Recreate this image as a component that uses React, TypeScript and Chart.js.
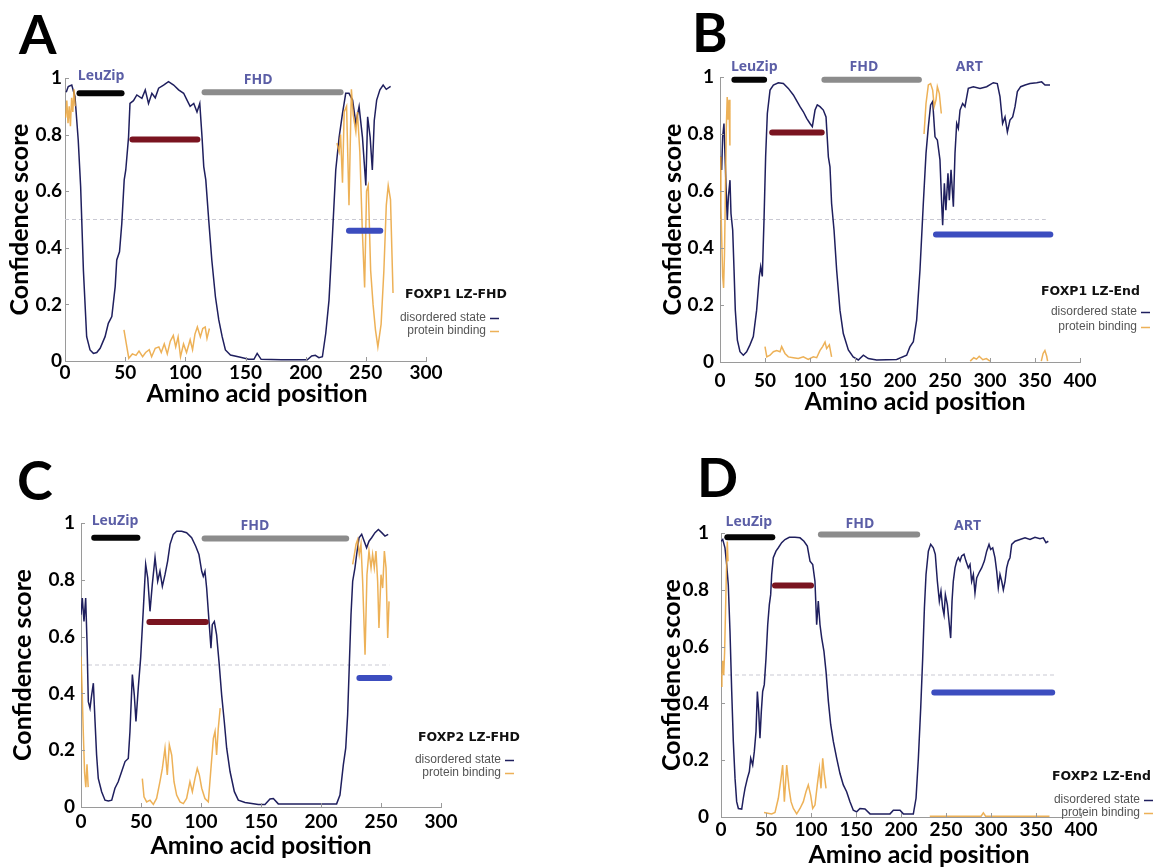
import React, { useEffect, useRef } from 'react';
import { Chart, registerables } from 'chart.js';
Chart.register(...registerables);

type Pt = [number, number | null];

// ---------------- DATA ----------------
const xTitle = 'Amino acid position';
const yTitle = 'Confidence score';
const legendItems = ['disordered state', 'protein binding'];
const domainColors = ['#050505', '#8c8c8c', '#7a1420', '#3c4dbf'];

// Panel A – FOXP1 LZ-FHD
const aDisordered: Pt[] = [[1,0.95],[2.7,0.97],[5.6,0.975],[8.3,0.934],[11,0.78],[13,0.616],[15.3,0.32],[18,0.086],[20.8,0.039],[23.6,0.027],[26.4,0.03],[29.2,0.045],[33.3,0.086],[36,0.133],[38.9,0.157],[41.7,0.263],[43,0.357],[45.3,0.386],[47.2,0.486],[49.2,0.64],[50.5,0.675],[52.8,0.79],[54,0.91],[56.9,0.92],[59.7,0.94],[63.9,0.928],[66.7,0.958],[69.4,0.91],[72.2,0.946],[75,0.93],[77.8,0.964],[81.9,0.975],[86,0.987],[90.3,0.975],[94.4,0.958],[98.6,0.946],[101.4,0.922],[104,0.9],[107,0.91],[109.7,0.88],[112,0.91],[113.9,0.79],[115.3,0.687],[117,0.64],[119.4,0.5],[122,0.357],[125,0.227],[127.8,0.145],[130.6,0.086],[133.3,0.039],[137.5,0.021],[145.8,0.013],[152.6,0.006],[157,0.006],[159.7,0.027],[163,0.006],[180,0.004],[201.4,0.004],[205,0.018],[208,0.02],[211,0.012],[213.9,0.015],[216.7,0.098],[219.4,0.215],[222.2,0.44],[225,0.675],[227.8,0.79],[230.6,0.875],[233.3,0.946],[236,0.946],[239,0.922],[241.7,0.84],[244.4,0.899],[247.2,0.79],[250,0.62],[251.5,0.863],[253.6,0.79],[255.4,0.675],[257,0.85],[259,0.922],[261.7,0.958],[264.4,0.975],[267,0.96],[270.6,0.97]];
const aBinding: Pt[] = [[0.5,0.86],[1.5,0.92],[2.5,0.84],[3.5,0.9],[4.5,0.83],[5.5,0.93],[6.5,0.88],[7.5,0.96],[8.5,0.9],[20,null],[49,0.11],[51,0.06],[53,0.01],[56,0.025],[59,0.02],[61.5,0.035],[64.5,0.015],[67,0.03],[70,0.04],[72,0.015],[75,0.045],[78,0.05],[80,0.03],[82.5,0.06],[85,0.025],[87.5,0.07],[90,0.09],[92,0.05],[94,0.085],[96,0.015],[98.5,0.06],[101,0.03],[104,0.075],[106,0.04],[108,0.095],[110,0.12],[112.5,0.085],[114.5,0.115],[116.5,0.12],[118,0.08],[120,0.115],[170,null],[226,0.77],[227.8,0.74],[229,0.8],[230.6,0.63],[232,0.88],[234,0.9],[236,0.55],[238,0.96],[239.5,0.87],[241.7,0.81],[243,0.88],[245,0.74],[247,0.47],[249,0.26],[250.6,0.6],[252,0.62],[254,0.32],[256,0.2],[258,0.11],[260,0.05],[262.7,0.13],[265,0.32],[267,0.55],[268.6,0.62],[270.5,0.57],[272.6,0.24]];
const aDomains = [[12,47,0.946],[116,229,0.95],[56,110,0.783],[236,262,0.46]];
const aDomainNames = ['LeuZip','FHD'];
const aDomainNameX = [30,160.5];
const aDomainNameY = [1.007,0.993];
const aThresholdEnd = 272;

// Panel B – FOXP1 LZ-End
const bDisordered: Pt[] = [[0.5,0.72],[1.85,0.674],[2.96,0.79],[4.4,0.837],[5.5,0.732],[6.7,0.615],[8.1,0.498],[9.3,0.58],[11.1,0.638],[12.2,0.521],[14.1,0.463],[15.6,0.323],[17,0.182],[19.3,0.077],[22.2,0.036],[25.9,0.024],[29.6,0.036],[33.3,0.06],[37,0.089],[40.7,0.182],[43.7,0.3],[45.2,0.335],[47,0.3],[48.9,0.498],[50.7,0.72],[52.6,0.872],[55.6,0.954],[59.3,0.972],[64.8,0.98],[70.4,0.977],[75.9,0.96],[81.5,0.937],[85.9,0.913],[88.9,0.896],[92.6,0.878],[96.3,0.855],[100,0.837],[102.6,0.826],[105.6,0.884],[108.1,0.902],[111.1,0.896],[114.8,0.884],[117.8,0.86],[120.4,0.72],[122.2,0.685],[124,0.556],[126.7,0.463],[129.6,0.323],[133.3,0.182],[137,0.1],[142.6,0.042],[148,0.018],[153.7,0.007],[159.3,0.024],[164.8,0.012],[174,0.007],[196.3,0.009],[207.4,0.024],[211,0.053],[214.8,0.071],[218.5,0.147],[222.2,0.323],[225.9,0.556],[228.9,0.732],[231.5,0.826],[234,0.902],[236.3,0.914],[238.9,0.79],[241.5,0.779],[244.4,0.709],[246.3,0.556],[247.4,0.48],[249.3,0.627],[251,0.533],[253.3,0.662],[254.8,0.568],[256.7,0.674],[259.3,0.545],[261.1,0.732],[263,0.837],[264.8,0.82],[266.7,0.884],[269.6,0.907],[272.2,0.896],[275.9,0.96],[281.5,0.966],[288.9,0.96],[296.3,0.966],[303.7,0.98],[308.1,0.977],[311.1,0.931],[314,0.837],[316.7,0.86],[319.3,0.807],[322.2,0.849],[325.2,0.86],[327.8,0.896],[330.4,0.949],[334.1,0.966],[339,0.972],[344.4,0.977],[351.9,0.98],[357.4,0.983],[361.1,0.972],[366.7,0.972]];
const bBinding: Pt[] = [[0,0.72],[1,0.55],[2,0.42],[3,0.3],[4,0.26],[5,0.38],[6,0.6],[7,0.82],[8,0.93],[9,0.85],[10,0.92],[11,0.76],[30,null],[50,0.054],[52,0.018],[55.6,0.024],[59.3,0.036],[63,0.04],[66.7,0.036],[68.5,0.054],[72.2,0.03],[75.9,0.018],[81.5,0.015],[87,0.012],[92.6,0.018],[98,0.009],[103.7,0.018],[107.4,0.015],[111,0.04],[114,0.054],[116.7,0.07],[118.5,0.047],[121.5,0.06],[124,0.018],[180,null],[226.7,0.8],[228.9,0.907],[231.5,0.972],[234,0.977],[236.3,0.954],[238,0.896],[240,0.92],[241.5,0.966],[243.7,0.942],[245.9,0.872],[260,null],[278,0.003],[282,0.015],[285,0.01],[288,0.02],[292,0.008],[296,0.012],[300,0.003],[330,null],[357,0.003],[359,0.03],[361,0.04],[363,0.02],[364,0.003]];
const bDomains = [[16,49,0.99],[116,221,0.99],[58,113,0.805],[240,367,0.447]];
const bDomainNames = ['LeuZip','FHD','ART'];
const bDomainNameX = [38,160,277];
const bDomainNameY = [1.035,1.035,1.035];
const bThresholdEnd = 362;

// Panel C – FOXP2 LZ-FHD
const cDisordered: Pt[] = [[0,0.677],[1.1,0.736],[2.5,0.653],[3.9,0.736],[5,0.583],[6.1,0.371],[7.5,0.348],[8.9,0.395],[10.3,0.436],[11.7,0.301],[13,0.183],[14.4,0.101],[17.2,0.054],[20,0.024],[22.8,0.021],[25.6,0.024],[28.3,0.066],[31,0.089],[33.9,0.125],[36.7,0.16],[39.4,0.171],[40.8,0.266],[42.8,0.466],[44.4,0.395],[45.8,0.301],[47.8,0.424],[49.7,0.524],[52,0.701],[53.9,0.854],[55.6,0.807],[57.5,0.689],[59.4,0.783],[61.7,0.878],[63.9,0.795],[65.8,0.83],[67.8,0.777],[70,0.818],[72.2,0.866],[74.2,0.925],[76.9,0.96],[79.7,0.971],[83.9,0.971],[88,0.966],[92.2,0.948],[95.6,0.918],[98.3,0.889],[100.6,0.83],[101.9,0.812],[103.3,0.83],[104.7,0.771],[106.7,0.653],[108.3,0.559],[109.4,0.642],[111.1,0.653],[113,0.606],[115,0.512],[117.2,0.395],[119.4,0.301],[121.4,0.207],[124.2,0.125],[127.8,0.054],[131.1,0.024],[136.7,0.016],[147.8,0.009],[153.3,0.009],[157.5,0.028],[160.3,0.03],[164.4,0.011],[213,0.011],[215.8,0.042],[218.6,0.148],[220.6,0.207],[222.2,0.325],[223.6,0.501],[225,0.677],[226.4,0.795],[228.3,0.842],[229.7,0.889],[231.7,0.948],[233.9,0.96],[236,0.936],[238,0.913],[240,0.936],[242.2,0.948],[245,0.966],[247.8,0.977],[250.6,0.966],[253.3,0.954],[256,0.96]];
const cBinding: Pt[] = [[0,0.53],[1,0.4],[2,0.25],[3,0.12],[4,0.07],[5,0.15],[6,0.07],[30,null],[51.1,0.1],[52.5,0.036],[54.7,0.018],[57.5,0.024],[60.3,0.009],[63,0.03],[65.8,0.089],[67.8,0.136],[70,0.207],[71.9,0.113],[73.6,0.219],[75.6,0.183],[77.5,0.089],[79.7,0.042],[82.5,0.018],[85.3,0.012],[88,0.03],[90.8,0.089],[92.8,0.054],[95,0.101],[96.9,0.136],[98.6,0.113],[100.6,0.066],[103.3,0.03],[106.1,0.018],[108.3,0.136],[110.3,0.242],[111.7,0.266],[113,0.183],[114.4,0.277],[116,0.348],[170,null],[226.4,0.854],[227.8,0.889],[229.2,0.925],[230.6,0.942],[231.9,0.889],[233.3,0.925],[234.7,0.795],[236.7,0.536],[238.3,0.818],[240,0.901],[241.7,0.842],[243,0.889],[244.4,0.842],[245.8,0.901],[247.2,0.795],[248.3,0.63],[250,0.818],[251.4,0.771],[252.8,0.901],[254.2,0.842],[255.6,0.595],[256.7,0.724]];
const cDomains = [[11,47,0.948],[103,221,0.945],[57,104,0.651],[232,257,0.454]];
const cDomainNames = ['LeuZip','FHD'];
const cDomainNameX = [28.3,145];
const cDomainNameY = [1.007,0.989];
const cThresholdEnd = 257;

// Panel D – FOXP2 LZ-End
const dDisordered: Pt[] = [[0,0.971],[1.9,0.977],[4.4,0.948],[6.3,0.889],[8.1,0.818],[10,0.653],[11.9,0.442],[13.7,0.266],[15.6,0.136],[17.4,0.054],[19.3,0.03],[23,0.028],[24.8,0.066],[26.7,0.101],[29.3,0.136],[31.5,0.16],[33,0.207],[35.2,0.183],[37,0.23],[38.9,0.301],[40.4,0.442],[41.9,0.371],[43.3,0.277],[44.8,0.371],[46.3,0.442],[48.1,0.466],[50,0.559],[51.9,0.677],[53.7,0.748],[55.2,0.783],[56.3,0.854],[58.1,0.913],[61.1,0.936],[63.7,0.948],[67.4,0.966],[71.1,0.977],[75.9,0.985],[82.2,0.985],[87.8,0.983],[92.2,0.971],[95.9,0.954],[98.9,0.901],[101.9,0.889],[104.4,0.83],[106.3,0.677],[108.1,0.76],[110,0.677],[111.9,0.63],[114.4,0.583],[116.7,0.512],[119.3,0.407],[121.9,0.325],[124.8,0.266],[128.5,0.207],[132.2,0.153],[135.9,0.113],[139.6,0.089],[143.3,0.054],[147,0.024],[150.7,0.018],[154.4,0.03],[160,0.028],[165.6,0.011],[187.8,0.011],[191.5,0.024],[198.9,0.024],[202.6,0.011],[213.7,0.011],[216.7,0.066],[219.3,0.207],[221.9,0.384],[224.1,0.559],[226,0.736],[227.8,0.854],[230.4,0.936],[233,0.96],[235.9,0.948],[238.1,0.925],[240.4,0.83],[242.6,0.76],[244.4,0.795],[246.3,0.736],[247.8,0.712],[249.3,0.783],[251.5,0.748],[253.7,0.677],[255.2,0.63],[256.7,0.76],[258.1,0.83],[260,0.877],[261.9,0.901],[263.7,0.913],[265.6,0.901],[267.4,0.919],[270,0.925],[272.2,0.901],[274.8,0.877],[276.7,0.889],[278.5,0.83],[280.4,0.854],[282.2,0.789],[284.1,0.842],[286.7,0.86],[289.6,0.877],[292.6,0.901],[295.2,0.936],[297.8,0.96],[299.6,0.942],[301.9,0.948],[304.4,0.913],[306.3,0.866],[308.1,0.807],[310,0.854],[311.9,0.83],[313.7,0.8],[315.6,0.83],[317.4,0.877],[319.3,0.901],[321.1,0.913],[323,0.96],[326.7,0.971],[332.2,0.977],[337.8,0.983],[343.3,0.977],[348.9,0.985],[354.4,0.98],[358.1,0.983],[361.1,0.966],[363.7,0.971]];
const dBinding: Pt[] = [[0,0.46],[1,0.5],[2,0.55],[3,0.5],[4,0.58],[5,0.72],[6,0.86],[7,0.97],[7.8,0.9],[30,null],[47.8,0.016],[56.3,0.011],[60,0.016],[63.7,0.066],[66.7,0.136],[68.5,0.183],[70.4,0.054],[73,0.183],[75.6,0.101],[77.8,0.054],[80.4,0.03],[84.1,0.011],[87.8,0.03],[91.5,0.054],[94.4,0.089],[97,0.113],[99.6,0.077],[101.9,0.03],[104.4,0.042],[107,0.113],[109.3,0.171],[111.1,0.101],[113,0.207],[114.8,0.148],[116.7,0.101],[180,null],[232,0.003],[260,0.003],[289,0.003],[291.5,0.015],[294,0.003],[330,0.003],[365,0.003]];
const dDomains = [[7,57,0.985],[111,218,0.995],[60,100,0.815],[237,368,0.438]];
const dDomainNames = ['LeuZip','FHD','ART'];
const dDomainNameX = [31,154.4,274];
const dDomainNameY = [1.037,1.03,1.025];
const dThresholdEnd = 370;

const threshold = 0.5;
const yTicksStep = 0.2;
const xTicksStep = 50;

// ---------------- LAYOUT / STYLE ----------------
const W = 1168;
const H = 867;
const NAVY = '#1f1f5e';
const ORANGE = 'rgba(234,163,58,0.85)';

interface PanelSpec {
  letter: string; name: string; xMax: number;
  disordered: Pt[]; binding: Pt[]; domains: number[][];
  names: string[]; nameX: number[]; nameY: number[]; thresholdEnd: number;
  area: { left: number; top: number; right: number; bottom: number };
  letterPos: [number, number];
  yTitleX: number; xTitleX: number; xTitleY: number; xTickY: number; yTickPad: number;
  legend: { titleX: number; titleY: number; right: number; y1: number; y2: number };
}

const panels: PanelSpec[] = [
  { letter: 'A', name: 'FOXP1 LZ-FHD', xMax: 300, disordered: aDisordered, binding: aBinding, domains: aDomains,
    names: aDomainNames, nameX: aDomainNameX, nameY: aDomainNameY, thresholdEnd: aThresholdEnd,
    area: { left: 65, top: 78, right: 426, bottom: 361 }, letterPos: [19, 54],
    yTitleX: 20, xTitleX: 257, xTitleY: 394, xTickY: 373, yTickPad: 3,
    legend: { titleX: 405, titleY: 295, right: 486, y1: 318, y2: 331 } },
  { letter: 'B', name: 'FOXP1 LZ-End', xMax: 400, disordered: bDisordered, binding: bBinding, domains: bDomains,
    names: bDomainNames, nameX: bDomainNameX, nameY: bDomainNameY, thresholdEnd: bThresholdEnd,
    area: { left: 720, top: 77, right: 1080, bottom: 362 }, letterPos: [692, 52],
    yTitleX: 673, xTitleX: 915, xTitleY: 402, xTickY: 381, yTickPad: 6,
    legend: { titleX: 1041, titleY: 292, right: 1137, y1: 312, y2: 327 } },
  { letter: 'C', name: 'FOXP2 LZ-FHD', xMax: 300, disordered: cDisordered, binding: cBinding, domains: cDomains,
    names: cDomainNames, nameX: cDomainNameX, nameY: cDomainNameY, thresholdEnd: cThresholdEnd,
    area: { left: 81, top: 523, right: 441, bottom: 807 }, letterPos: [17, 500],
    yTitleX: 23, xTitleX: 261, xTitleY: 846, xTickY: 822, yTickPad: 6,
    legend: { titleX: 418, titleY: 738, right: 501, y1: 760, y2: 773 } },
  { letter: 'D', name: 'FOXP2 LZ-End', xMax: 400, disordered: dDisordered, binding: dBinding, domains: dDomains,
    names: dDomainNames, nameX: dDomainNameX, nameY: dDomainNameY, thresholdEnd: dThresholdEnd,
    area: { left: 721, top: 533, right: 1081, bottom: 817 }, letterPos: [697, 497],
    yTitleX: 672, xTitleX: 919, xTitleY: 855, xTickY: 830, yTickPad: 12,
    legend: { titleX: 1052, titleY: 777, right: 1140, y1: 800, y2: 813 } },
];

const toXY = (pts: Pt[]) => pts.map(([x, y]) => ({ x, y }));

function makeDecor(spec: PanelSpec) {
  return {
    id: 'decor' + spec.letter,
    afterDraw(chart: any) {
      const ctx: CanvasRenderingContext2D = chart.ctx;
      const xs = chart.scales.x;
      const ys = chart.scales.y;
      ctx.save();
      // inward tick marks
      ctx.strokeStyle = '#9a9a9a';
      ctx.lineWidth = 1;
      ctx.beginPath();
      xs.ticks.forEach((t: any) => {
        const px = Math.round(xs.getPixelForValue(t.value)) + 0.5;
        ctx.moveTo(px, xs.top);
        ctx.lineTo(px, xs.top - 4);
      });
      ys.ticks.forEach((t: any) => {
        const py = Math.round(ys.getPixelForValue(t.value)) + 0.5;
        ctx.moveTo(ys.right, py);
        ctx.lineTo(ys.right + 4, py);
      });
      ctx.stroke();
      // panel letter
      ctx.fillStyle = '#000';
      ctx.font = 'bold 54px Lato';
      ctx.textAlign = 'left';
      ctx.textBaseline = 'alphabetic';
      ctx.fillText(spec.letter, spec.letterPos[0], spec.letterPos[1]);
      // x axis title
      ctx.font = 'bold 25px Lato';
      ctx.textAlign = 'center';
      ctx.textBaseline = 'middle';
      ctx.fillText(xTitle, spec.xTitleX, spec.xTitleY);
      // domain names
      ctx.font = 'bold 14px "Open Sans"';
      ctx.fillStyle = '#5b5ea6';
      spec.names.forEach((s, i) => {
        ctx.fillText(s, xs.getPixelForValue(spec.nameX[i]), ys.getPixelForValue(spec.nameY[i]));
      });
      // legend
      const lg = spec.legend;
      ctx.textAlign = 'left';
      ctx.fillStyle = '#111';
      ctx.font = 'bold 12.5px "DejaVu Sans"';
      ctx.fillText(spec.name, lg.titleX, lg.titleY);
      ctx.textAlign = 'right';
      ctx.fillStyle = '#555';
      ctx.font = '12px "Liberation Sans"';
      ctx.fillText(legendItems[0], lg.right, lg.y1);
      ctx.fillText(legendItems[1], lg.right, lg.y2);
      ctx.lineWidth = 1.5;
      ctx.strokeStyle = NAVY;
      ctx.beginPath();
      ctx.moveTo(lg.right + 4, lg.y1 + 0.5);
      ctx.lineTo(lg.right + 13, lg.y1 + 0.5);
      ctx.stroke();
      ctx.strokeStyle = ORANGE;
      ctx.beginPath();
      ctx.moveTo(lg.right + 4, lg.y2 + 0.5);
      ctx.lineTo(lg.right + 13, lg.y2 + 0.5);
      ctx.stroke();
      ctx.restore();
    },
  };
}

function buildConfig(spec: PanelSpec): any {
  const a = spec.area;
  const tickFont = { family: 'Lato', weight: 'bold', size: 19 };
  const titleFont = { family: 'Lato', weight: 'bold', size: 25 };
  const domainSets = spec.domains.map((d, i) => ({
    data: [{ x: d[0], y: d[2] }, { x: d[1], y: d[2] }],
    borderColor: domainColors[i],
    borderWidth: 6,
    borderCapStyle: 'round',
    pointRadius: 0,
    clip: false,
  }));
  return {
    type: 'line',
    data: {
      datasets: [
        ...domainSets,
        { data: toXY(spec.binding), borderColor: ORANGE, borderWidth: 1.5, pointRadius: 0, spanGaps: false },
        { data: toXY(spec.disordered), borderColor: NAVY, borderWidth: 1.5, pointRadius: 0 },
        { data: [{ x: 0, y: threshold }, { x: spec.thresholdEnd, y: threshold }], borderColor: '#c9c9d3', borderWidth: 1, borderDash: [4, 3], pointRadius: 0 },
      ],
    },
    options: {
      responsive: false,
      animation: false,
      devicePixelRatio: 1,
      events: [],
      layout: {
        padding: { left: spec.yTitleX - 15, top: a.top, right: W - a.right, bottom: H - (spec.xTitleY + 15) },
      },
      elements: { line: { tension: 0 }, point: { radius: 0 } },
      plugins: { legend: { display: false }, tooltip: { enabled: false } },
      scales: {
        x: {
          type: 'linear', min: 0, max: spec.xMax,
          afterFit: (s: any) => { s.height = spec.xTitleY + 15 - a.bottom; },
          grid: { display: false, drawTicks: false, tickLength: 0 },
          border: { display: true, color: '#9a9a9a', width: 1 },
          ticks: { stepSize: xTicksStep, autoSkip: false, maxRotation: 0, padding: spec.xTickY - a.bottom - 11.4, font: tickFont, color: '#000' },
          title: { display: false },
        },
        y: {
          type: 'linear', min: 0, max: 1,
          afterFit: (s: any) => { s.width = a.left - (spec.yTitleX - 15); },
          grid: { display: false, drawTicks: false, tickLength: 0 },
          border: { display: true, color: '#9a9a9a', width: 1 },
          ticks: { stepSize: yTicksStep, padding: spec.yTickPad, font: tickFont, color: '#000',
            callback: (v: number) => String(Math.round(v * 10) / 10) },
          title: { display: true, text: yTitle, font: titleFont, color: '#000', padding: 0 },
        },
      },
    },
    plugins: [makeDecor(spec)],
  };
}

function PanelChart({ spec }: { spec: PanelSpec }) {
  const ref = useRef<HTMLCanvasElement>(null);
  useEffect(() => {
    const chart = new Chart(ref.current as HTMLCanvasElement, buildConfig(spec));
    return () => chart.destroy();
  }, [spec]);
  return (
    <canvas ref={ref} width={W} height={H}
      style={{ position: 'absolute', left: 0, top: 0, width: W, height: H }} />
  );
}

export default function App() {
  return (
    <div style={{ position: 'absolute', left: 0, top: 0, width: W, height: H, background: '#fff', overflow: 'hidden' }}>
      {panels.map((p) => <PanelChart key={p.letter} spec={p} />)}
    </div>
  );
}
